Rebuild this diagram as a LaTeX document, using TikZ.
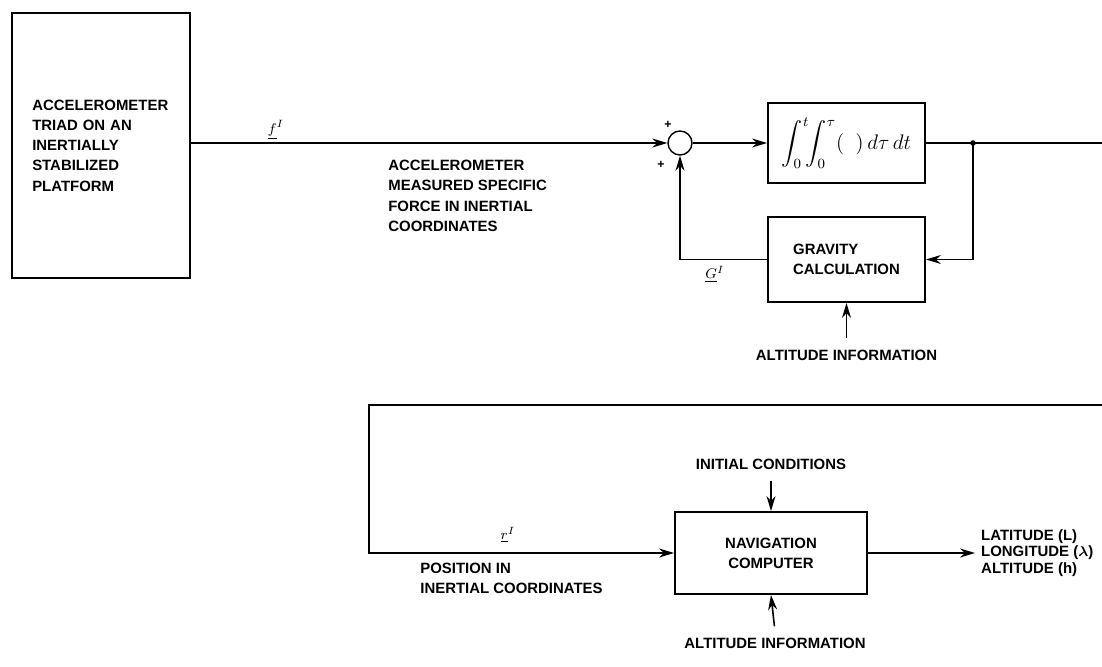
\documentclass[tikz,border=0pt]{standalone}
\usepackage{amsmath,amssymb}
\usepackage{fontspec}
\setmainfont{Liberation Sans}
\usetikzlibrary{arrows.meta, positioning, calc}

\begin{document}
\begin{tikzpicture}[
        x=0.02cm, y=-0.02cm,
        font=\bfseries\fontsize{8.5}{11.5}\selectfont,
        every node/.style={align=left},
        block/.style={
            rectangle, draw=black, line width=1.1pt,
            inner sep=3pt
        },
        sumjn/.style={circle, draw=black, line width=0.8pt,
            minimum size=0.48cm, inner sep=0pt},
        lbl/.style={inner sep=0pt, anchor=north west},
        arr/.style={-{Stealth[length=3mm,width=1.8mm]}, line width=0.9pt, black},
        ln/.style={line width=0.9pt, black}
    ]
    \useasboundingbox (0,0) rectangle (1102,666);
    % upper loop
    \node[block, minimum width=3.56cm, minimum height=5.3cm, text width=2.75cm] (platform) at (101,145.5)
        {ACCELEROMETER\\TRIAD ON AN\\INERTIALLY\\STABILIZED\\PLATFORM};
    \node[sumjn] (sum) at (680,143) {};
    \node[block, minimum width=3.14cm, minimum height=1.6cm, align=center] (integ) at (846.5,143)
        {\large$\displaystyle\int_0^t\!\!\int_0^\tau (\;\;)\,d\tau\,dt$};
    \node[block, minimum width=3.14cm, minimum height=1.7cm] (grav) at (846.5,259.5)
        {GRAVITY\\CALCULATION};
    \coordinate (tap) at (973,143);
    \coordinate (topEdge) at (1102,143);
    \node (fi) at (276,130) {$\underline{f}^{I}$};
    \node[lbl] (accLbl) at (388,160) {ACCELEROMETER\\MEASURED SPECIFIC\\FORCE IN INERTIAL\\COORDINATES};
    \node (plusA) at (668,125) {\scriptsize +};
    \node (plusB) at (661,165) {\scriptsize +};
    \node (gi) at (715,274) {$\underline{G}^{I}$};
    \node (altA) at (846.5,355) {ALTITUDE INFORMATION};
    \draw[arr] (platform.east |- sum.west) -- (sum.west);
    \draw[arr] (sum.east) -- (integ.west);
    \draw[ln] (integ.east) -- (topEdge);
    \fill (tap) circle (1.6pt);
    \draw[arr] (tap) |- (grav.east);
    \draw[arr] (grav.west) -| (sum.south);
    \draw[arr, shorten <=3pt] (altA.north) -- (grav.south);
    % lower loop
    \node[block, minimum width=3.84cm, minimum height=1.64cm, align=center] (nav) at (771,553)
        {NAVIGATION\\COMPUTER};
    \coordinate (loopR) at (1102,405);
    \coordinate (loopL) at (369,405);
    \node (init) at (771,464) {INITIAL CONDITIONS};
    \node (altB) at (775,643) {ALTITUDE INFORMATION};
    \node (ri) at (508,535) {$\underline{r}^{I}$};
    \node[lbl] (posLbl) at (420,563) {POSITION IN\\INERTIAL COORDINATES};
    \node[anchor=west, font=\bfseries\fontsize{8.5}{9.5}\selectfont] (outs) at (975,553)
        {LATITUDE (L)\\LONGITUDE ($\boldsymbol{\lambda}$)\\ALTITUDE (h)};
    \draw[arr] (loopR) -- (loopL) |- (nav.west);
    \draw[arr, shorten <=3pt] (init.south) -- (nav.north);
    \draw[arr, shorten <=3pt] (altB.north) -- (nav.south);
    \draw[arr] (nav.east) -- (nav.east -| outs.west);
\end{tikzpicture}
\end{document}
